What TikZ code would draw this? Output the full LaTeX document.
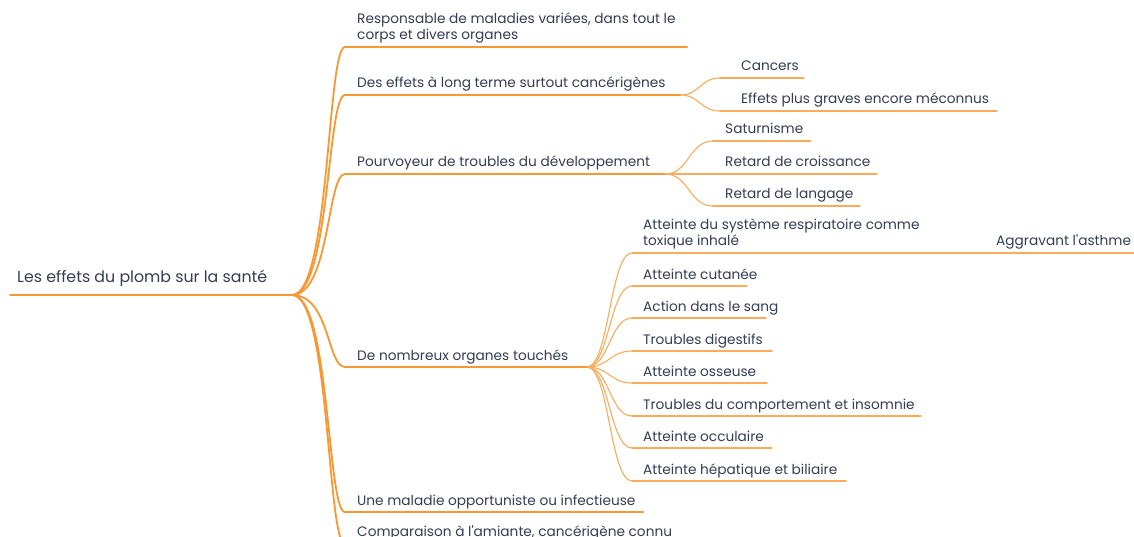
\documentclass[tikz,border=0pt]{standalone}
\usepackage{fontspec}
\setmainfont{Poppins}
\definecolor{ink}{RGB}{52,61,82}
\definecolor{orA}{RGB}{247,152,52}
\definecolor{orB}{RGB}{250,172,92}
\begin{document}
\begin{tikzpicture}[x=1pt,y=-1pt,
  txt/.style={font=\fontsize{13.7}{16.5}\selectfont, text=ink, inner sep=0pt, anchor=base west},
  roottxt/.style={txt, font=\fontsize{15.8}{18}\selectfont},
  mltxt/.style={txt, align=left, anchor=south west},
  lineA/.style={draw=orA, line width=2pt, line cap=round},
  lineB/.style={draw=orB, line width=1.2pt, line cap=round},
  linkA/.style={draw=orA, line width=1.8pt},
  linkB/.style={draw=orB, line width=1.1pt}]
\useasboundingbox (0,0) rectangle (1134,537);
\fill[white] (0,0) rectangle (1134,537);

% root
\node[roottxt] (root) at (17,282.5) {Les effets du plomb sur la santé};
\coordinate (rootS) at (10,295); \coordinate (rootE) at (292,295);
\draw[lineA] (rootS) -- (rootE);

% level 1
\node[mltxt] (n1) at (357,43.5) {Responsable de maladies variées, dans tout le\\corps et divers organes};
\coordinate (n1S) at (345,47); \coordinate (n1E) at (687,47);
\node[txt] (n2) at (357,88) {Des effets à long terme surtout cancérigènes};
\coordinate (n2S) at (345,95); \coordinate (n2E) at (680,95);
\node[txt] (n3) at (357,167) {Pourvoyeur de troubles du développement};
\coordinate (n3S) at (345,174); \coordinate (n3E) at (665,174);
\node[txt] (n4) at (357,360) {De nombreux organes touchés};
\coordinate (n4S) at (345,367); \coordinate (n4E) at (587,367);
\node[txt] (n5) at (357,505) {Une maladie opportuniste ou infectieuse};
\coordinate (n5S) at (345,512); \coordinate (n5E) at (643,512);
\node[txt] (n6) at (357,536.5) {Comparaison à l\textquotesingle amiante, cancérigène connu};
\coordinate (n6S) at (345,544); \coordinate (n6E) at (676,544);

\foreach \n in {n1,n2,n3,n4,n5,n6}{
  \draw[lineA] (\n S) -- (\n E);
  \draw[linkA] (rootE) .. controls +(38,0) and +(-18,0) .. (\n S);
}

% level 2 under n2
\node[txt] (d1) at (741,71) {Cancers};
\coordinate (d1S) at (720,78); \coordinate (d1E) at (804,78);
\node[txt] (d2) at (741,104) {Effets plus graves encore méconnus};
\coordinate (d2S) at (720,111); \coordinate (d2E) at (997,111);
\foreach \n in {d1,d2}{
  \draw[lineB] (\n S) -- (\n E);
  \draw[linkB] (n2E) .. controls +(20,0) and +(-20,0) .. (\n S);
}

% level 2 under n3
\node[txt] (s1) at (725,134) {Saturnisme};
\coordinate (s1S) at (713,141); \coordinate (s1E) at (811,141);
\node[txt] (s2) at (725,167) {Retard de croissance};
\coordinate (s2S) at (713,174); \coordinate (s2E) at (877,174);
\node[txt] (s3) at (725,199) {Retard de langage};
\coordinate (s3S) at (713,206); \coordinate (s3E) at (860,206);
\foreach \n in {s1,s2,s3}{
  \draw[lineB] (\n S) -- (\n E);
  \draw[linkB] (n3E) .. controls +(24,0) and +(-24,0) .. (\n S);
}

% level 2 under n4
\node[mltxt] (o1) at (643,249.5) {Atteinte du système respiratoire comme\\toxique inhalé};
\coordinate (o1S) at (632,253); \coordinate (o1E) at (930,253);
\node[txt] (o2) at (643,279) {Atteinte cutanée};
\coordinate (o2S) at (632,286); \coordinate (o2E) at (747,286);
\node[txt] (o3) at (643,311) {Action dans le sang};
\coordinate (o3S) at (632,318); \coordinate (o3E) at (766,318);
\node[txt] (o4) at (643,344) {Troubles digestifs};
\coordinate (o4S) at (632,351); \coordinate (o4E) at (772,351);
\node[txt] (o5) at (643,376) {Atteinte osseuse};
\coordinate (o5S) at (632,383); \coordinate (o5E) at (767,383);
\node[txt] (o6) at (643,409) {Troubles du comportement et insomnie};
\coordinate (o6S) at (632,416); \coordinate (o6E) at (921,416);
\node[txt] (o7) at (643,441) {Atteinte occulaire};
\coordinate (o7S) at (632,448); \coordinate (o7E) at (772,448);
\node[txt] (o8) at (643,474) {Atteinte hépatique et biliaire};
\coordinate (o8S) at (632,481); \coordinate (o8E) at (846,481);
\foreach \n in {o1,o2,o3,o4,o5,o6,o7,o8}{
  \draw[lineB] (\n S) -- (\n E);
  \draw[linkB] (n4E) .. controls +(22,0) and +(-22,0) .. (\n S);
}

% level 3
\node[txt] (a1) at (996,246) {Aggravant l\textquotesingle asthme};
\coordinate (a1S) at (985,253); \coordinate (a1E) at (1134,253);
\draw[lineB] (a1S) -- (a1E);
\draw[linkB] (o1E) -- (a1S);
\end{tikzpicture}
\end{document}
